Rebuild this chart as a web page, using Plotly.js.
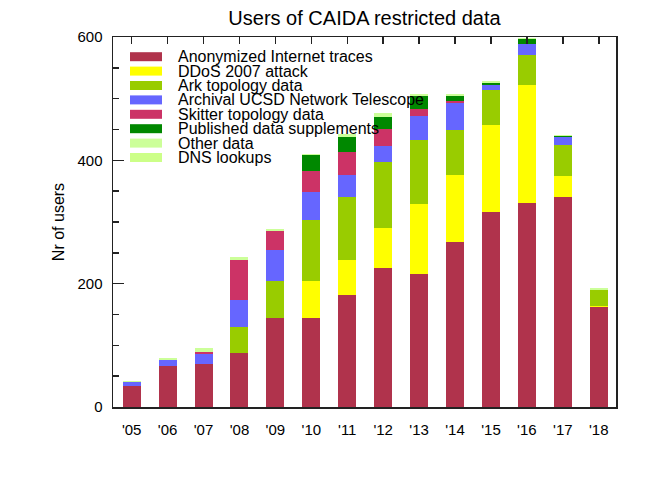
<!DOCTYPE html>
<html>
<head>
<meta charset="utf-8">
<script src="https://cdn.plot.ly/plotly-3.0.1.min.js"></script>
<style>html,body{margin:0;padding:0;background:#fff;}#chart{width:651px;height:480px;}</style>
</head>
<body>
<div id="chart"></div>
<script>
// ---- data ----
const years = ["'05","'06","'07","'08","'09","'10","'11","'12","'13","'14","'15","'16","'17","'18"];
const anonymized = [34, 67, 69, 87, 145, 144, 182, 225, 216, 267, 316, 331, 340, 162];
const ddos2007   = [0, 0, 0, 0, 0, 61, 56, 66, 114, 110, 142, 191, 35, 2];
const arkTopology = [0, 0, 1, 42, 59, 99, 103, 106, 103, 72, 56, 49, 50, 25];
const ucsdTelescope = [7, 10, 16, 45, 50, 44, 35, 27, 39, 44, 8, 17, 13, 0];
const skitter = [0, 0, 4, 65, 32, 34, 37, 27, 12, 3, 0, 0, 0, 0];
const published = [0, 0, 0, 0, 0, 26, 25, 20, 21, 9, 4, 8, 1, 0];
const otherData = [1, 3, 6, 4, 3, 3, 5, 5, 3, 3, 2, 3, 2, 4];
const dnsLookups = [0, 0, 0, 0, 0, 0, 0, 0, 0, 0, 0, 0, 0, 0];

const seriesNames = ["Anonymized Internet traces","DDoS 2007 attack","Ark topology data",
  "Archival UCSD Network Telescope","Skitter topology data","Published data supplements",
  "Other data","DNS lookups"];
const seriesValues = [anonymized, ddos2007, arkTopology, ucsdTelescope, skitter, published, otherData, dnsLookups];
const seriesColors = ["#b0334c","#ffff00","#99cc00","#6666ff","#cc3366","#008800","#ccff99","#ccff88"];

const FONT = "Liberation Sans, Arial, Helvetica, sans-serif";
const traces = seriesValues.map((vals, i) => ({
  type: 'bar', x: years, y: vals, name: seriesNames[i],
  marker: {color: seriesColors[i], line: {width: 0}},
  showlegend: false, hoverinfo: 'x+y+name'
}));
// dummy trace to establish top axis with category ticks
traces.push({type:'scatter', x: years, y: years.map(() => null), xaxis:'x2', yaxis:'y',
  mode:'markers', showlegend:false, hoverinfo:'skip'});

// plot-area pixel frame
const L = 113, R = 616, T = 37, B = 407;
const px = x => (x - L) / (R - L);
const py = y => (B - y) / (B - T);

const rowStart = 56.7, rowStep = 14.4;
const shapes = [], annotations = [];
seriesNames.forEach((n, i) => {
  const cy = rowStart + i * rowStep;
  shapes.push({type:'rect', xref:'paper', yref:'paper', x0: px(130), x1: px(162),
    y0: py(cy + 4.5), y1: py(cy - 4.5), fillcolor: seriesColors[i], line:{width:0}, layer:'above'});
  annotations.push({xref:'paper', yref:'paper', x: px(176), y: py(cy), xanchor:'left', yanchor:'middle',
    text: n, showarrow:false, font:{family:FONT, size:16, color:'#000'}});
});

const layout = {
  width: 651, height: 480,
  margin: {l: L, r: 651 - R, t: T, b: 480 - B, pad: 0},
  paper_bgcolor: '#fff', plot_bgcolor: '#fff',
  font: {family: FONT, color: '#000'},
  barmode: 'stack', bargap: 0.5,
  title: {text: 'Users of CAIDA restricted data', font: {family: FONT, size: 20, color:'#000'},
    xref: 'paper', x: 0.5, xanchor:'center', yref: 'container', y: 1 - 18/480, yanchor: 'middle'},
  xaxis: {type:'category', categoryarray: years, range: [-0.52, 13.48],
    showline: true, linecolor: '#222', linewidth: 1.5, mirror: true,
    ticks: '', showgrid: false, zeroline: false, tickfont: {size: 15, family: FONT, color:'#000'},
    ticklabelstandoff: 8},
  xaxis2: {type:'category', categoryarray: years, range: [-0.52, 13.48], overlaying: 'x', side: 'top',
    showline: false, ticks: 'inside', ticklen: 7, tickwidth: 1.5, tickcolor: '#222',
    showticklabels: false, showgrid: false, zeroline: false},
  yaxis: {range: [0, 600], tickmode: 'linear', tick0: 0, dtick: 200,
    showline: true, linecolor: '#222', linewidth: 1.5, mirror: true,
    ticks: 'inside', ticklen: 11, tickwidth: 1.5, tickcolor: '#222',
    minor: {dtick: 50, ticks: 'inside', ticklen: 6, tickwidth: 1.5, tickcolor: '#222', showgrid: false},
    showgrid: false, zeroline: false, tickfont: {size: 15, family: FONT, color:'#000'},
    ticklabelstandoff: 6,
    title: {text: 'Nr of users', font: {size: 16, family: FONT, color:'#000'}, standoff: 9}},
  shapes: shapes, annotations: annotations
};
Plotly.newPlot('chart', traces, layout, {staticPlot: true, displayModeBar: false});
</script>
</body>
</html>
